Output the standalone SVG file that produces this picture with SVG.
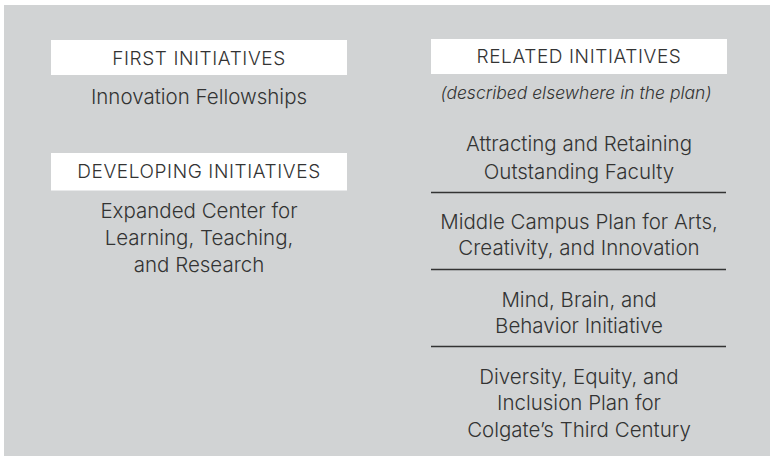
<svg xmlns="http://www.w3.org/2000/svg" width="770" height="456" viewBox="0 0 770 456">
<style>
  text { font-family: Inter, Roboto, "Liberation Sans", sans-serif; font-weight: 300; fill: #333; text-anchor: middle; }
  .hdr { font-size: 19px; letter-spacing: 0.6px; }
  .body { font-size: 20.5px; }
  .note { font-size: 17.5px; font-style: italic; }
  .box { fill: #fff; }
  .rule { stroke: #333; stroke-width: 1.5; }
</style>
<rect x="4" y="5" width="766" height="451" fill="#d1d3d4"/>
<g id="first-initiatives">
  <rect class="box" x="51" y="40" width="296" height="35"/>
  <text class="hdr" x="199" y="64.5">FIRST INITIATIVES</text>
</g>
<g id="innovation-fellowships">
  <text class="body" x="199" y="103.5">Innovation Fellowships</text>
</g>
<g id="developing-initiatives">
  <rect class="box" x="51" y="153" width="296" height="37.5"/>
  <text class="hdr" x="199" y="177.5">DEVELOPING INITIATIVES</text>
</g>
<g id="expanded-center">
  <text class="body" x="199" y="217.5"><tspan x="199">Expanded Center for</tspan><tspan x="199" dy="27">Learning, Teaching,</tspan><tspan x="199" dy="27">and Research</tspan></text>
</g>
<g id="related-initiatives">
  <rect class="box" x="431" y="39" width="296" height="35"/>
  <text class="hdr" x="579" y="63">RELATED INITIATIVES</text>
  <text class="note" x="576" y="98.5">(described elsewhere in the plan)</text>
</g>
<g id="attracting-faculty">
  <text class="body" x="579" y="151"><tspan x="579">Attracting and Retaining</tspan><tspan x="579" dy="27.5">Outstanding Faculty</tspan></text>
</g>
<g id="middle-campus">
  <text class="body" x="579" y="228.5"><tspan x="579">Middle Campus Plan for Arts,</tspan><tspan x="579" dy="26.5">Creativity, and Innovation</tspan></text>
</g>
<g id="mind-brain">
  <text class="body" x="579" y="306.5"><tspan x="579">Mind, Brain, and</tspan><tspan x="579" dy="26.5">Behavior Initiative</tspan></text>
</g>
<g id="diversity-equity">
  <text class="body" x="579" y="383.5"><tspan x="579">Diversity, Equity, and</tspan><tspan x="579" dy="26.7">Inclusion Plan for</tspan><tspan x="579" dy="26.7">Colgate’s Third Century</tspan></text>
</g>
<g id="connectors">
  <line class="rule" x1="431" y1="192.5" x2="726" y2="192.5"/>
  <line class="rule" x1="431" y1="269.5" x2="726" y2="269.5"/>
  <line class="rule" x1="431" y1="346.5" x2="726" y2="346.5"/>
</g>
</svg>
